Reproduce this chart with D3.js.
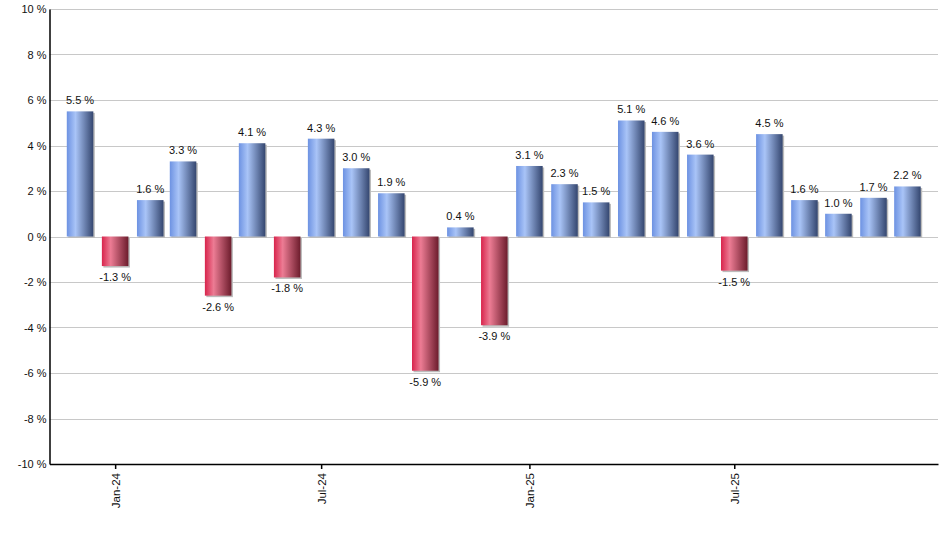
<!DOCTYPE html>
<html>
<head>
<meta charset="utf-8">
<script src="https://cdn.jsdelivr.net/npm/d3@7"></script>
<style>
  body { margin: 0; background: #fff; }
  text { font-family: "Liberation Sans", Arial, sans-serif; fill: #111; }
</style>
</head>
<body>
<svg id="chart" width="940" height="550"></svg>
<script>
// monthly returns, Dec-23 .. Dec-25
const months = ["2023-12", "2024-01", "2024-02", "2024-03", "2024-04", "2024-05", "2024-06",
  "2024-07", "2024-08", "2024-09", "2024-10", "2024-11", "2024-12", "2025-01", "2025-02",
  "2025-03", "2025-04", "2025-05", "2025-06", "2025-07", "2025-08", "2025-09", "2025-10",
  "2025-11", "2025-12"];
const values = [5.5, -1.3, 1.6, 3.3, -2.6, 4.1, -1.8, 4.3, 3.0, 1.9, -5.9, 0.4, -3.9,
  3.1, 2.3, 1.5, 5.1, 4.6, 3.6, -1.5, 4.5, 1.6, 1.0, 1.7, 2.2];
const yTicks = [-10, -8, -6, -4, -2, 0, 2, 4, 6, 8, 10];

const parse = d3.timeParse("%Y-%m");
const data = months.map((m, i) => ({date: parse(m), val: values[i]}));

const margin = {left: 49.5, top: 9, right: 2, bottom: 86};
const w = 940, h = 550;

const svg = d3.select("#chart");

const first = data[0].date, last = data[data.length - 1].date;
const x = d3.scaleTime()
  .domain([d3.timeDay.offset(first, -27), d3.timeDay.offset(last, 27)])
  .range([margin.left, w - margin.right]);
const y = d3.scaleLinear()
  .domain([-10, 10])
  .range([h - margin.bottom, margin.top]);

const step = (x(last) - x(first)) / (data.length - 1);
const barW = step * 0.77;

// gradients
const defs = svg.append("defs");
function grad(id, stops) {
  const g = defs.append("linearGradient").attr("id", id)
    .attr("x1", "0%").attr("x2", "100%").attr("y1", "0%").attr("y2", "0%");
  stops.forEach(([o, c]) => g.append("stop").attr("offset", o).attr("stop-color", c));
}
grad("gPos", [["0%", "#6d92e2"], ["33%", "#a9c4f7"], ["100%", "#34466f"]]);
grad("gNeg", [["0%", "#d8244c"], ["33%", "#ec7c94"], ["100%", "#6c1c2c"]]);

// grid
svg.append("g")
  .selectAll("line")
  .data(yTicks.filter(d => d > -10))
  .join("line")
  .attr("x1", margin.left).attr("x2", w - margin.right)
  .attr("y1", d => Math.round(y(d)) + 0.5).attr("y2", d => Math.round(y(d)) + 0.5)
  .attr("stroke", "#c8c8c8");

// shadows
svg.append("g")
  .selectAll("rect")
  .data(data)
  .join("rect")
  .attr("x", d => x(d.date) - barW / 2 + 1.5)
  .attr("y", d => Math.min(y(d.val), y(0)) + 1.5)
  .attr("width", barW)
  .attr("height", d => Math.abs(y(d.val) - y(0)))
  .attr("fill", "#bcbcbc");

// bars
svg.append("g")
  .selectAll("rect")
  .data(data)
  .join("rect")
  .attr("x", d => x(d.date) - barW / 2)
  .attr("y", d => Math.min(y(d.val), y(0)))
  .attr("width", barW)
  .attr("height", d => Math.abs(y(d.val) - y(0)))
  .attr("fill", d => d.val >= 0 ? "url(#gPos)" : "url(#gNeg)");

// value labels
svg.append("g")
  .selectAll("text")
  .data(data)
  .join("text")
  .attr("x", d => x(d.date))
  .attr("y", d => d.val >= 0 ? y(d.val) - 7 : y(d.val) + 15)
  .attr("text-anchor", "middle")
  .attr("font-size", 11)
  .text(d => d.val.toFixed(1) + " %");

// y axis
const yAxis = svg.append("g")
  .attr("transform", `translate(${margin.left},0)`)
  .call(d3.axisLeft(y).tickValues(yTicks).tickSize(0).tickPadding(3)
    .tickFormat(d => d + " %"));
yAxis.select(".domain").attr("stroke", "#000").attr("stroke-width", 1.5);
yAxis.selectAll("text").attr("font-size", 11).attr("font-family", null).attr("fill", null);

// x axis
const xAxis = svg.append("g")
  .attr("transform", `translate(0,${h - margin.bottom})`)
  .call(d3.axisBottom(x).ticks(d3.timeMonth.every(6)).tickSize(5).tickSizeOuter(0)
    .tickFormat(d3.timeFormat("%b-%y")));
xAxis.select(".domain").attr("stroke", "#000").attr("stroke-width", 1.5);
xAxis.selectAll(".tick line").attr("stroke", "#000").attr("stroke-width", 1.5);
xAxis.selectAll("text")
  .attr("font-size", 11.5).attr("font-family", null).attr("fill", null)
  .attr("text-anchor", "end")
  .attr("transform", "rotate(-90)")
  .attr("x", -9).attr("y", 0).attr("dy", "0.35em");
</script>
</body>
</html>
